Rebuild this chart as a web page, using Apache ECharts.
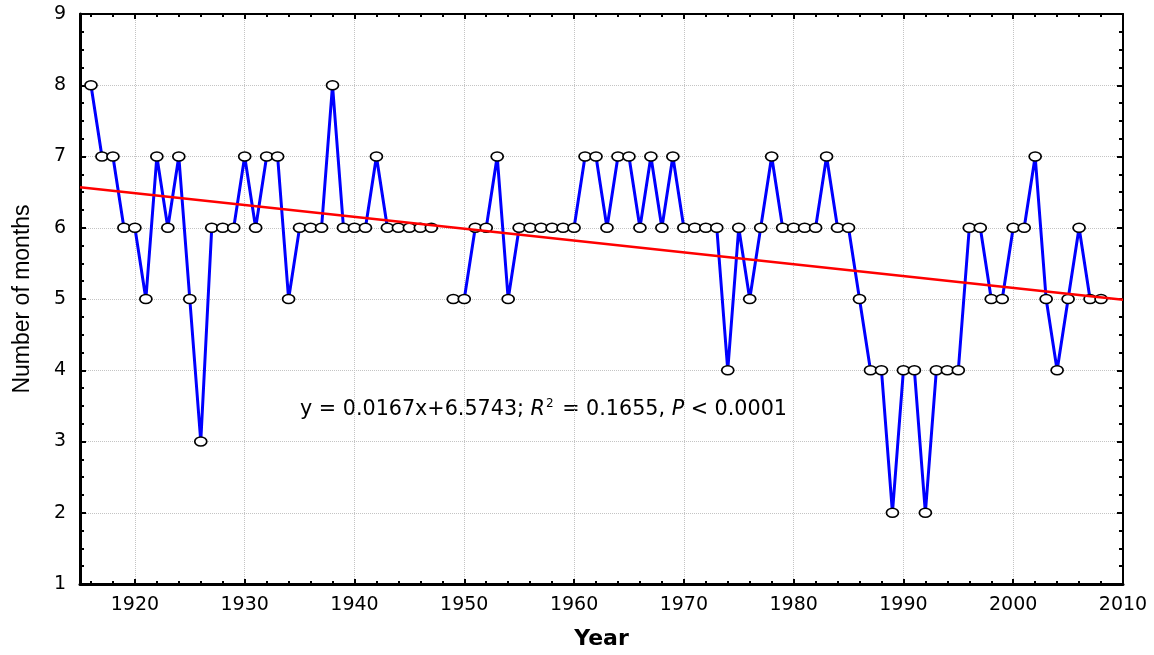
<!DOCTYPE html>
<html>
<head>
<meta charset="utf-8">
<script src="https://cdn.jsdelivr.net/npm/echarts@6/dist/echarts.min.js"></script>
<style>
  html, body { margin: 0; padding: 0; background: #fff; }
  #chart { width: 1154px; height: 655px; }
</style>
</head>
<body>
<div id="chart"></div>
<script>
// years and number of months (1948 missing)
var years = [
    1916, 1917, 1918, 1919, 1920, 1921, 1922, 1923, 1924, 1925,
    1926, 1927, 1928, 1929, 1930, 1931, 1932, 1933, 1934, 1935,
    1936, 1937, 1938, 1939, 1940, 1941, 1942, 1943, 1944, 1945,
    1946, 1947, 1948, 1949, 1950, 1951, 1952, 1953, 1954, 1955,
    1956, 1957, 1958, 1959, 1960, 1961, 1962, 1963, 1964, 1965,
    1966, 1967, 1968, 1969, 1970, 1971, 1972, 1973, 1974, 1975,
    1976, 1977, 1978, 1979, 1980, 1981, 1982, 1983, 1984, 1985,
    1986, 1987, 1988, 1989, 1990, 1991, 1992, 1993, 1994, 1995,
    1996, 1997, 1998, 1999, 2000, 2001, 2002, 2003, 2004, 2005,
    2006, 2007, 2008
];
var months = [
    8, 7, 7, 6, 6, 5, 7, 6, 7, 5,
    3, 6, 6, 6, 7, 6, 7, 7, 5, 6,
    6, 6, 8, 6, 6, 6, 7, 6, 6, 6,
    6, 6, null, 5, 5, 6, 6, 7, 5, 6,
    6, 6, 6, 6, 6, 7, 7, 6, 7, 7,
    6, 7, 6, 7, 6, 6, 6, 6, 4, 6,
    5, 6, 7, 6, 6, 6, 6, 7, 6, 6,
    5, 4, 4, 2, 4, 4, 2, 4, 4, 4,
    6, 6, 5, 5, 6, 6, 7, 5, 4, 5,
    6, 5, 5
];
// fitted trend line, end points
var trendYears = [1915, 2010];
var trendValues = [6.57, 4.99];
var xTicks = [1920, 1930, 1940, 1950, 1960, 1970, 1980, 1990, 2000, 2010];

var minorX = [];
for (var t = 1916; t <= 2010; t += 2) {
    if (xTicks.indexOf(t) < 0) minorX.push(t);
}

var chart = echarts.init(document.getElementById('chart'));

var labelFont = 'DejaVu Sans';
var gridLine = { show: true, lineStyle: { color: '#c4c4c4', type: 'dotted', width: 1 } };

function frameX(pos, width, ticks, len) {
    return {
        type: 'value', position: pos, min: 1915, max: 2010,
        axisLine: { show: width > 0, onZero: false, lineStyle: { color: '#000', width: width } },
        axisTick: { show: true, inside: true, length: len, customValues: ticks,
            lineStyle: { color: '#000', width: 2 } },
        axisLabel: { show: false },
        splitLine: { show: false }
    };
}

var option = {
    animation: false,
    backgroundColor: '#fff',
    grid: { left: 80, right: 31, top: 14, bottom: 67 },
    xAxis: [
        {
            type: 'value', position: 'bottom', min: 1915, max: 2010,
            name: 'Year', nameLocation: 'middle', nameGap: 44,
            nameTextStyle: { fontFamily: labelFont, fontWeight: 'bold', fontSize: 22, color: '#000' },
            axisLine: { onZero: false, lineStyle: { color: '#000', width: 3 } },
            axisTick: { inside: true, length: 5, customValues: xTicks,
                lineStyle: { color: '#000', width: 2 } },
            axisLabel: { customValues: xTicks, margin: 12, fontFamily: labelFont,
                fontSize: 19, color: '#000',
                formatter: function (v) { return String(v); } },
            splitLine: gridLine
        },
        frameX('bottom', 0, minorX, 3),
        frameX('top', 2, xTicks, 5),
        frameX('top', 0, minorX, 3)
    ],
    yAxis: [
        {
            type: 'value', position: 'left', min: 1, max: 9, interval: 1,
            name: 'Number of months', nameLocation: 'middle', nameGap: 46,
            nameTextStyle: { fontFamily: 'Liberation Sans', fontSize: 23, color: '#000' },
            axisLine: { show: true, onZero: false, lineStyle: { color: '#000', width: 3 } },
            axisTick: { show: true, inside: true, length: 6, lineStyle: { color: '#000', width: 2 } },
            minorTick: { show: true, splitNumber: 4, length: 4, lineStyle: { color: '#000', width: 2 } },
            axisLabel: { margin: 14, fontFamily: labelFont, fontSize: 19, color: '#000' },
            splitLine: gridLine
        },
        {
            type: 'value', position: 'right', min: 1, max: 9, interval: 1,
            axisLine: { show: true, onZero: false, lineStyle: { color: '#000', width: 2 } },
            axisTick: { show: true, inside: true, length: 6, lineStyle: { color: '#000', width: 2 } },
            minorTick: { show: true, splitNumber: 4, length: 4, lineStyle: { color: '#000', width: 2 } },
            axisLabel: { show: false },
            splitLine: { show: false }
        }
    ],
    series: [
        {
            name: 'Number of months',
            type: 'line',
            data: years.map(function (y, i) { return [y, months[i]]; }),
            connectNulls: false,
            symbol: 'circle',
            symbolSize: [12, 9],
            showAllSymbol: true,
            lineStyle: { color: '#0000ff', width: 3 },
            itemStyle: { color: '#fff', borderColor: '#000', borderWidth: 1.5 },
            z: 3
        },
        {
            name: 'Trend',
            type: 'line',
            data: trendYears.map(function (y, i) { return [y, trendValues[i]]; }),
            symbol: 'none',
            lineStyle: { color: '#ff0000', width: 2.5 },
            z: 4
        }
    ],
    graphic: [{
        type: 'text',
        left: 300,
        top: 398,
        style: {
            text: '{n|y = 0.0167x+6.5743; }{i|R}{s|2}{n| = 0.1655, }{i|P}{n| < 0.0001}',
            rich: {
                n: { fontFamily: labelFont, fontSize: 20.7, color: '#000', lineHeight: 24 },
                i: { fontFamily: labelFont, fontSize: 20.7, fontStyle: 'italic', color: '#000', lineHeight: 24 },
                s: { fontFamily: labelFont, fontSize: 12, color: '#000', verticalAlign: 'top', lineHeight: 24, padding: [0, 2, 9, 1] }
            }
        }
    }]
};
option && chart.setOption(option);
</script>
</body>
</html>
